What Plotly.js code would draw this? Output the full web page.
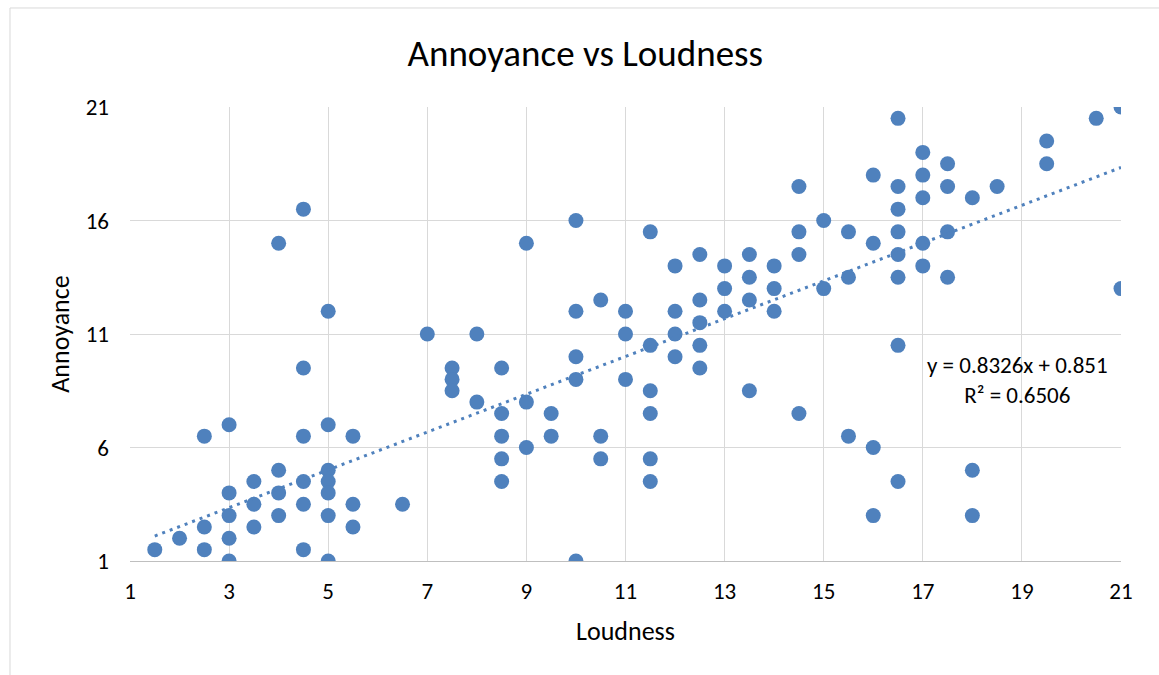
<!DOCTYPE html>
<html>
<head>
<meta charset="utf-8">
<script src="https://cdn.plot.ly/plotly-3.0.1.min.js"></script>
<style>
  html, body { margin: 0; padding: 0; background: #ffffff; }
  #chart { width: 1159px; height: 675px; }
</style>
</head>
<body>
<div id="chart"></div>
<script>
// Loudness (x) values and Annoyance (y) values
const loudness = [
  1.5,
  2,
  2.5, 2.5, 2.5,
  3, 3, 3, 3, 3,
  3.5, 3.5, 3.5,
  4, 4, 4, 4,
  4.5, 4.5, 4.5, 4.5, 4.5, 4.5,
  5, 5, 5, 5, 5, 5, 5,
  5.5, 5.5, 5.5,
  6.5,
  7,
  7.5, 7.5, 7.5,
  8, 8,
  8.5, 8.5, 8.5, 8.5, 8.5,
  9, 9, 9,
  9.5, 9.5,
  10, 10, 10, 10, 10,
  10.5, 10.5, 10.5,
  11, 11, 11,
  11.5, 11.5, 11.5, 11.5, 11.5, 11.5,
  12, 12, 12, 12,
  12.5, 12.5, 12.5, 12.5, 12.5,
  13, 13, 13,
  13.5, 13.5, 13.5, 13.5,
  14, 14, 14,
  14.5, 14.5, 14.5, 14.5,
  15, 15,
  15.5, 15.5, 15.5,
  16, 16, 16, 16,
  16.5, 16.5, 16.5, 16.5, 16.5, 16.5, 16.5, 16.5,
  17, 17, 17, 17, 17,
  17.5, 17.5, 17.5, 17.5,
  18, 18, 18,
  18.5,
  19.5, 19.5,
  20.5,
  21, 21
];
const annoyance = [
  1.5,
  2,
  6.5, 2.5, 1.5,
  7, 4, 3, 2, 1,
  4.5, 3.5, 2.5,
  15, 5, 4, 3,
  16.5, 9.5, 6.5, 4.5, 3.5, 1.5,
  12, 7, 5, 4.5, 4, 3, 1,
  6.5, 3.5, 2.5,
  3.5,
  11,
  9.5, 9, 8.5,
  11, 8,
  9.5, 7.5, 6.5, 5.5, 4.5,
  15, 8, 6,
  7.5, 6.5,
  16, 12, 10, 9, 1,
  12.5, 6.5, 5.5,
  12, 11, 9,
  15.5, 10.5, 8.5, 7.5, 5.5, 4.5,
  14, 12, 11, 10,
  14.5, 12.5, 11.5, 10.5, 9.5,
  14, 13, 12,
  14.5, 13.5, 12.5, 8.5,
  14, 13, 12,
  17.5, 15.5, 14.5, 7.5,
  16, 13,
  15.5, 13.5, 6.5,
  18, 15, 6, 3,
  20.5, 17.5, 16.5, 15.5, 14.5, 13.5, 10.5, 4.5,
  19, 18, 17, 15, 14,
  18.5, 17.5, 15.5, 13.5,
  17, 5, 3,
  17.5,
  19.5, 18.5,
  20.5,
  21, 13
];

// Linear trendline as printed on the chart
const trendSlope = 0.8326;
const trendIntercept = 0.851;
const trendR2 = 0.6506;

const xTicks = [1, 3, 5, 7, 9, 11, 13, 15, 17, 19, 21];
const yTicks = [1, 6, 11, 16, 21];

const chartTitle = "Annoyance vs Loudness";
const xTitle = "Loudness";
const yTitle = "Annoyance";

const xMin = Math.min(...loudness);
const xMax = Math.max(...loudness);
const trendX = [xMin, xMax];
const trendY = trendX.map(v => trendSlope * v + trendIntercept);

const FONT = "Carlito, Calibri, Lato, 'Open Sans', sans-serif";
const BLUE = "#4f81bd";

const traces = [
  {
    type: "scatter",
    mode: "markers",
    x: loudness,
    y: annoyance,
    marker: { color: BLUE, size: 15, line: { width: 0 } },
    hoverinfo: "x+y",
    showlegend: false
  },
  {
    type: "scatter",
    mode: "lines",
    x: trendX,
    y: trendY,
    line: { color: BLUE, width: 3, dash: "3px,5px" },
    hoverinfo: "skip",
    showlegend: false
  }
];

const layout = {
  width: 1159,
  height: 675,
  margin: { l: 130, r: 38, t: 107, b: 114 },
  paper_bgcolor: "#ffffff",
  plot_bgcolor: "#ffffff",
  font: { family: FONT, color: "#000000", size: 16 },
  title: {
    text: chartTitle,
    font: { family: FONT, size: 37, color: "#000000" },
    x: 0.505, xanchor: "center", xref: "container",
    y: 0.921, yanchor: "middle"
  },
  xaxis: {
    range: [1, 21],
    tickmode: "array",
    tickvals: xTicks,
    ticktext: xTicks.map(String),
    showgrid: true,
    gridcolor: "#d9d9d9",
    gridwidth: 1,
    zeroline: false,
    showline: true,
    linecolor: "#bfbfbf",
    linewidth: 1,
    ticks: "",
    ticklabelstandoff: 9,
    tickfont: { family: FONT, size: 23, color: "#000000" },
    title: { text: xTitle, font: { family: FONT, size: 26, color: "#000000" }, standoff: 18 }
  },
  yaxis: {
    range: [1, 21],
    tickmode: "array",
    tickvals: yTicks,
    ticktext: yTicks.map(String),
    showgrid: true,
    gridcolor: "#d9d9d9",
    gridwidth: 1,
    zeroline: false,
    showline: false,
    ticks: "",
    ticklabelstandoff: 20,
    tickfont: { family: FONT, size: 23, color: "#000000" },
    title: { text: yTitle, font: { family: FONT, size: 26, color: "#000000" }, standoff: 8 }
  },
  annotations: [
    {
      xref: "x", yref: "y",
      x: 18.92, y: 8.97,
      text: "y = " + trendSlope + "x + " + trendIntercept + "<br>R² = " + trendR2,
      showarrow: false,
      align: "center",
      font: { family: FONT, size: 23, color: "#000000" }
    }
  ],
  shapes: [
    {
      type: "rect", xref: "paper", yref: "paper",
      x0: -0.1211, x1: 1.0494, y0: -0.284, y1: 1.2181,
      line: { color: "#d9d9d9", width: 1 },
      fillcolor: "rgba(0,0,0,0)",
      layer: "below"
    }
  ]
};

Plotly.newPlot("chart", traces, layout, { displayModeBar: false, staticPlot: true });
</script>
</body>
</html>
